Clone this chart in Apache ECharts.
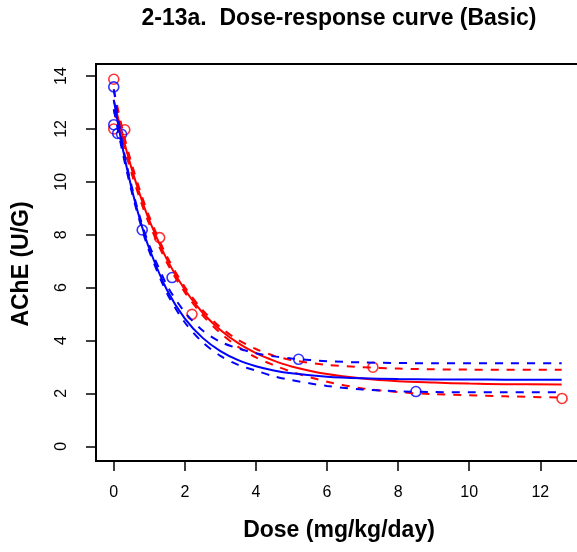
<!DOCTYPE html>
<html>
<head>
<meta charset="utf-8">
<script src="https://cdn.jsdelivr.net/npm/echarts@6/dist/echarts.min.js"></script>
<style>html,body{margin:0;padding:0;background:#fff}#c{width:577px;height:552px}</style>
</head>
<body>
<div id="c"></div>
<script>
// ---- data ----
const xTicks = [0, 2, 4, 6, 8, 10, 12];
const yTicks = [0, 2, 4, 6, 8, 10, 12, 14];

const redDose = [0, 0, 0.31, 1.29, 2.2, 7.29, 12.61];
const redAChE = [13.88, 12.0, 11.97, 7.89, 4.99, 2.99, 1.81];
const blueDose = [0, 0, 0.11, 0.22, 0.8, 1.64, 5.2, 8.5];
const blueAChE = [13.59, 12.16, 11.83, 11.8, 8.18, 6.38, 3.29, 2.07];

// fitted curves and dashed bands, read along the dose axis
const fitDose = [0, 0.25, 0.5, 0.75, 1, 1.5, 2, 2.5, 3, 3.5, 4, 4.5, 5, 6, 7, 8, 9, 10, 11, 12.6];
const redFit  = [13.10, 11.72, 10.51, 9.46, 8.54, 7.05, 5.92, 5.05, 4.40, 3.90, 3.52, 3.24, 3.02, 2.73, 2.56, 2.46, 2.41, 2.37, 2.35, 2.34];
const redUp   = [13.5, 11.95, 10.7, 9.62, 8.68, 7.17, 6.02, 5.15, 4.5, 4.02, 3.68, 3.43, 3.26, 3.08, 2.99, 2.94, 2.91, 2.9, 2.89, 2.89];
const redLo   = [12.7, 11.5, 10.33, 9.3, 8.4, 6.93, 5.82, 4.95, 4.28, 3.76, 3.36, 3.07, 2.82, 2.44, 2.19, 2.05, 1.97, 1.93, 1.89, 1.84];
const blueFit = [13.10, 11.27, 9.76, 8.51, 7.47, 5.90, 4.83, 4.10, 3.60, 3.26, 3.03, 2.87, 2.76, 2.63, 2.57, 2.54, 2.53, 2.525, 2.52, 2.52];
const blueUp  = [13.5, 11.4, 9.85, 8.6, 7.6, 6.08, 5.07, 4.38, 3.95, 3.7, 3.52, 3.4, 3.32, 3.22, 3.17, 3.15, 3.14, 3.14, 3.14, 3.14];
const blueLo  = [12.75, 11.1, 9.65, 8.42, 7.37, 5.78, 4.68, 3.93, 3.42, 3.08, 2.86, 2.65, 2.5, 2.28, 2.15, 2.08, 2.05, 2.04, 2.04, 2.04];

const titleText = '2-13a.  Dose-response curve (Basic)';
const xTitle = 'Dose (mg/kg/day)';
const yTitle = 'AChE (U/G)';

// ---- build ----
const FONT = "'Liberation Sans', Arial, sans-serif";
const RED = '#ff0000', BLUE = '#0000ff';
const zip = (xs, ys) => xs.map((x, i) => [x, ys[i]]);

function lineSeries(xs, ys, color, dashed) {
  return {
    type: 'line', data: zip(xs, ys), showSymbol: false, symbol: 'none',
    smooth: 0.3, silent: true, animation: false,
    lineStyle: { color: color, width: 2, type: dashed ? [8, 8] : 'solid' }
  };
}
function pointSeries(xs, ys, color) {
  return {
    type: 'scatter', data: zip(xs, ys), symbol: 'circle', symbolSize: 10,
    itemStyle: { color: 'rgba(0,0,0,0)', borderColor: color, borderWidth: 1.6 },
    animation: false
  };
}

const chart = echarts.init(document.getElementById('c'), null, { renderer: 'canvas' });
chart.setOption({
  backgroundColor: '#fff',
  animation: false,
  grid: { left: 96, top: 64, width: 487, height: 397, outerBoundsMode: 'none', containLabel: false,
          show: true, borderColor: '#000', borderWidth: 2, backgroundColor: 'transparent' },
  xAxis: {
    type: 'value', min: -0.5, max: 13.2,
    axisLine: { show: true, onZero: false, lineStyle: { color: '#000', width: 2 } },
    axisTick: { show: true, customValues: xTicks, length: 10, lineStyle: { color: '#000', width: 1.5 } },
    axisLabel: { customValues: xTicks, margin: 24, fontSize: 16, color: '#000', fontFamily: FONT },
    splitLine: { show: false }
  },
  yAxis: {
    type: 'value', min: -0.556, max: 14.456,
    axisLine: { show: true, onZero: false, lineStyle: { color: '#000', width: 2 } },
    axisTick: { show: true, customValues: yTicks, length: 10, lineStyle: { color: '#000', width: 1.5 } },
    axisLabel: { customValues: yTicks, rotate: 90, margin: 26, fontSize: 16, color: '#000', fontFamily: FONT },
    splitLine: { show: false }
  },
  graphic: [
    { type: 'text', x: 339, y: 19, style: { text: titleText, textAlign: 'center', textVerticalAlign: 'middle', font: 'bold 23px ' + FONT, fill: '#000' } },
    { type: 'text', x: 339, y: 531, style: { text: xTitle, textAlign: 'center', textVerticalAlign: 'middle', font: 'bold 23px ' + FONT, fill: '#000' } },
    { type: 'text', x: 22, y: 264, rotation: Math.PI / 2, style: { text: yTitle, textAlign: 'center', textVerticalAlign: 'middle', font: 'bold 23px ' + FONT, fill: '#000' } }
  ],
  series: [
    lineSeries(fitDose, redFit, RED, false),
    lineSeries(fitDose, redUp, RED, true),
    lineSeries(fitDose, redLo, RED, true),
    pointSeries(redDose, redAChE, RED),
    lineSeries(fitDose, blueFit, BLUE, false),
    lineSeries(fitDose, blueUp, BLUE, true),
    lineSeries(fitDose, blueLo, BLUE, true),
    pointSeries(blueDose, blueAChE, BLUE)
  ]
});
</script>
</body>
</html>
